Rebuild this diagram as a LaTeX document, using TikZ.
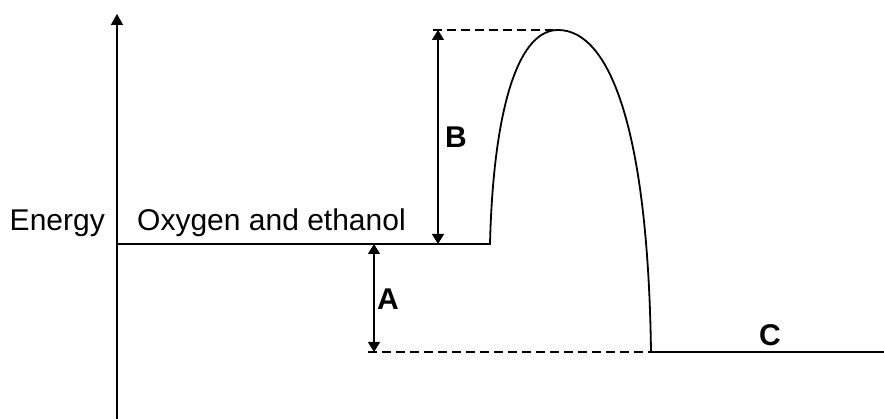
\documentclass[tikz,border=0pt]{standalone}
\usepackage{fontspec}
\setmainfont{Liberation Sans}
\usetikzlibrary{arrows.meta}

\begin{document}
\begin{tikzpicture}[x=1pt, y=-1pt,
        level/.style={line width=1.8pt, draw=black},
        guide/.style={line width=1.3pt, dash pattern=on 9pt off 5pt, draw=black},
        gap/.style={{Triangle[length=10pt,width=12pt]}-{Triangle[length=10pt,width=12pt]}, line width=1.3pt},
        axisArrow/.style={-{Triangle[length=11pt,width=12pt]}, line width=1.6pt},
        txt/.style={font=\fontsize{30}{34}\selectfont, inner sep=0pt},
        gapLabel/.style={font=\fontsize{30}{34}\selectfont\bfseries, inner sep=0pt}
      ]
      \useasboundingbox (0,0) rectangle (884,419);

      % axis and levels
      \coordinate (axisLow) at (117,419);
      \coordinate (axisTop) at (117,14);
      \coordinate (reactStart) at (117,244);
      \coordinate (reactEnd) at (490,244);
      \coordinate (peak) at (558,30);
      \coordinate (prodStart) at (651,352);
      \coordinate (prodEnd) at (884,352);

      \draw[axisArrow] (axisLow) -- (axisTop);
      \draw[level] (reactStart) -- (reactEnd)
        .. controls (493,120) and (515,30) .. (peak)
        .. controls (610,30) and (648,130) .. (prodStart) -- (prodEnd);

      % guides
      \coordinate (topGuide) at (433,30);
      \coordinate (lowGuide) at (368,352);
      \draw[guide] (topGuide) -- (peak);
      \draw[guide] (lowGuide) -- (prodStart);

      % energy gaps
      \coordinate (bTop) at (438,30);
      \coordinate (bLow) at (438,244);
      \coordinate (aTop) at (374,244);
      \coordinate (aLow) at (374,352);
      \draw[gap] (bTop) -- (bLow);
      \draw[gap] (aTop) -- (aLow);

      \node[gapLabel] (labelB) at (456,137) {B};
      \node[gapLabel] (labelA) at (388,299) {A};
      \node[gapLabel] (labelC) at (770,335) {C};

      \node[txt, anchor=base east] (energy) at (105,231) {Energy};
      \node[txt, anchor=base west] (reactants) at (137,231) {Oxygen and ethanol};
    \end{tikzpicture}
\end{document}
